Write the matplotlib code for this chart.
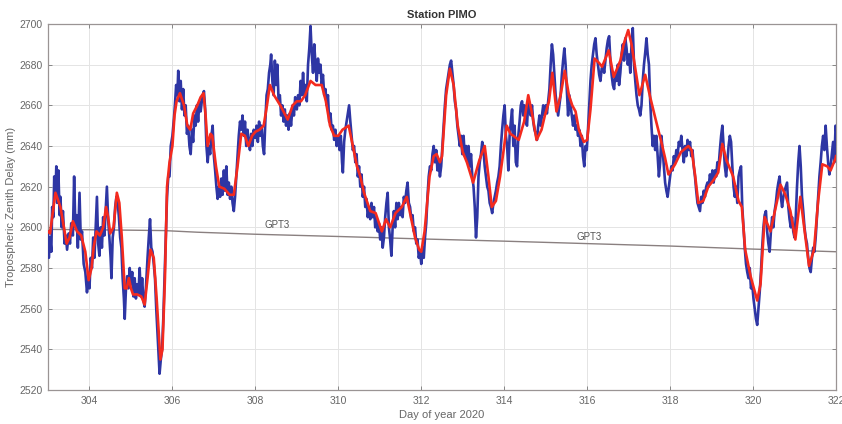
import matplotlib
matplotlib.use("Agg")
import matplotlib.pyplot as plt

plt.rcParams['font.family'] = ['Liberation Sans', 'DejaVu Sans']

# ---------------- data ----------------
blue_day = [
303.00,303.02,303.05,303.08,303.10,303.13,303.15,303.18,303.20,303.22,303.25,303.28,303.30,303.33,303.36,303.40,
303.43,303.46,303.50,303.53,303.56,303.60,303.63,303.66,303.69,303.72,303.76,303.79,303.82,303.86,303.90,303.94,
303.97,304.00,304.03,304.06,304.09,304.12,304.15,304.18,304.21,304.24,304.27,304.30,304.33,304.36,304.40,304.42,
304.45,304.48,304.51,304.53,304.56,304.59,304.62,304.65,304.68,304.71,304.74,304.77,304.80,304.83,304.85,304.88,
304.91,304.94,304.97,305.00,305.03,305.06,305.09,305.12,305.15,305.18,305.21,305.24,305.27,305.30,305.33,305.36,
305.40,305.43,305.46,305.49,305.52,305.55,305.58,305.61,305.64,305.67,305.69,305.72,305.75,305.78,305.81,305.84,
305.87,305.90,305.93,305.96,306.00,306.03,306.06,306.09,306.12,306.14,306.17,306.20,306.23,306.26,306.29,306.32,
306.35,306.38,306.41,306.44,306.47,306.50,306.53,306.56,306.59,306.62,306.65,306.68,306.72,306.76,306.79,306.82,
306.85,306.88,306.91,306.94,306.97,307.00,307.03,307.06,307.09,307.12,307.15,307.18,307.21,307.24,307.27,307.30,
307.33,307.36,307.39,307.42,307.45,307.48,307.51,307.54,307.57,307.60,307.63,307.66,307.69,307.72,307.75,307.78,
307.81,307.84,307.87,307.90,307.93,307.96,308.00,308.03,308.06,308.09,308.12,308.15,308.18,308.21,308.24,308.27,
308.30,308.33,308.36,308.38,308.41,308.44,308.47,308.50,308.53,308.56,308.59,308.62,308.65,308.68,308.71,308.74,
308.77,308.80,308.83,308.86,308.90,308.93,308.96,309.00,309.03,309.06,309.09,309.12,309.15,309.18,309.21,309.24,
309.27,309.30,309.33,309.36,309.39,309.42,309.45,309.48,309.51,309.54,309.57,309.60,309.63,309.66,309.69,309.72,
309.75,309.78,309.81,309.84,309.87,309.90,309.93,309.96,310.00,310.03,310.06,310.09,310.11,310.14,310.17,310.20,
310.23,310.26,310.29,310.32,310.35,310.38,310.41,310.44,310.47,310.50,310.53,310.56,310.59,310.62,310.65,310.68,
310.71,310.74,310.77,310.80,310.83,310.86,310.89,310.92,310.95,310.98,311.01,311.04,311.07,311.10,311.13,311.16,
311.19,311.22,311.25,311.28,311.31,311.34,311.37,311.40,311.43,311.46,311.49,311.52,311.55,311.58,311.61,311.64,
311.67,311.70,311.73,311.76,311.79,311.82,311.85,311.88,311.91,311.94,311.97,312.00,312.03,312.06,312.09,312.12,
312.15,312.18,312.21,312.24,312.27,312.30,312.33,312.36,312.39,312.42,312.45,312.48,312.51,312.54,312.57,312.60,
312.63,312.66,312.69,312.72,312.75,312.78,312.81,312.84,312.87,312.90,312.93,312.96,312.99,313.02,313.05,313.08,
313.11,313.14,313.17,313.20,313.23,313.26,313.29,313.32,313.35,313.38,313.41,313.44,313.47,313.50,313.53,313.56,
313.59,313.62,313.65,313.68,313.71,313.74,313.77,313.80,313.83,313.86,313.89,313.92,313.95,313.98,314.01,314.04,
314.07,314.10,314.13,314.16,314.19,314.22,314.25,314.28,314.31,314.34,314.37,314.40,314.43,314.46,314.49,314.52,
314.55,314.58,314.61,314.64,314.67,314.70,314.73,314.76,314.79,314.82,314.85,314.88,314.91,314.94,314.97,315.00,
315.03,315.06,315.09,315.12,315.15,315.18,315.21,315.24,315.27,315.30,315.33,315.36,315.39,315.42,315.45,315.48,
315.51,315.54,315.57,315.60,315.63,315.66,315.69,315.72,315.75,315.78,315.81,315.84,315.87,315.90,315.93,315.96,
315.99,316.02,316.05,316.08,316.11,316.14,316.17,316.20,316.23,316.26,316.29,316.32,316.35,316.38,316.41,316.44,
316.47,316.50,316.53,316.56,316.59,316.62,316.65,316.68,316.71,316.74,316.77,316.80,316.83,316.86,316.89,316.92,
316.95,316.98,317.01,317.04,317.07,317.10,317.13,317.16,317.19,317.22,317.25,317.28,317.31,317.34,317.37,317.40,
317.43,317.46,317.49,317.52,317.55,317.58,317.61,317.64,317.67,317.70,317.73,317.76,317.79,317.82,317.85,317.88,
317.91,317.94,317.97,318.00,318.03,318.06,318.09,318.12,318.15,318.18,318.21,318.24,318.27,318.30,318.33,318.36,
318.39,318.42,318.45,318.48,318.51,318.54,318.57,318.60,318.63,318.66,318.69,318.72,318.75,318.78,318.81,318.84,
318.87,318.90,318.93,318.96,318.99,319.02,319.05,319.08,319.11,319.14,319.17,319.20,319.23,319.26,319.29,319.32,
319.35,319.38,319.41,319.44,319.47,319.50,319.53,319.56,319.59,319.62,319.65,319.68,319.71,319.74,319.77,319.80,
319.83,319.86,319.89,319.92,319.95,319.98,320.01,320.04,320.07,320.10,320.13,320.16,320.19,320.22,320.25,320.28,
320.31,320.34,320.37,320.40,320.43,320.46,320.49,320.52,320.55,320.58,320.61,320.64,320.67,320.70,320.73,320.76,
320.79,320.82,320.85,320.88,320.91,320.94,320.97,321.00,321.03,321.06,321.09,321.12,321.15,321.18,321.21,321.24,
321.27,321.30,321.33,321.36,321.39,321.42,321.45,321.48,321.51,321.54,321.57,321.60,321.63,321.66,321.69,321.72,
321.75,321.78,321.81,321.84,321.87,321.90,321.93,321.96,321.99,322.00]

blue_ztd = [
2598,2585,2595,2588,2610,2605,2625,2615,2630,2612,2628,2606,2615,2600,2608,2592,
2596,2589,2597,2592,2602,2596,2625,2600,2606,2590,2617,2594,2598,2582,2578,2568,
2575,2570,2585,2580,2595,2585,2600,2615,2592,2586,2600,2590,2605,2596,2612,2620,
2604,2595,2585,2575,2595,2600,2610,2615,2612,2605,2595,2590,2575,2565,2555,2570,
2576,2570,2580,2572,2578,2566,2575,2565,2572,2567,2580,2566,2575,2564,2561,2570,
2585,2595,2604,2590,2588,2582,2575,2560,2548,2535,2528,2535,2540,2555,2575,2595,
2615,2625,2625,2640,2645,2652,2660,2670,2665,2677,2662,2672,2658,2668,2655,2660,
2646,2650,2640,2636,2648,2642,2655,2650,2660,2652,2662,2657,2664,2667,2658,2640,
2632,2640,2636,2645,2650,2635,2628,2620,2614,2620,2615,2624,2616,2628,2618,2630,
2616,2622,2614,2620,2612,2608,2615,2625,2635,2645,2652,2648,2655,2645,2652,2640,
2648,2642,2638,2646,2640,2648,2644,2650,2642,2652,2645,2650,2640,2636,2652,2665,
2668,2676,2680,2685,2672,2665,2682,2670,2680,2662,2665,2655,2660,2652,2658,2650,
2655,2648,2656,2650,2660,2655,2664,2658,2665,2660,2672,2665,2676,2665,2670,2662,
2680,2688,2699,2685,2676,2690,2680,2672,2683,2676,2680,2670,2675,2665,2668,2660,
2665,2652,2656,2648,2650,2643,2648,2640,2645,2638,2645,2632,2627,2642,2648,2652,
2656,2660,2652,2645,2638,2640,2632,2636,2625,2630,2620,2626,2615,2620,2610,2614,
2605,2610,2604,2612,2605,2610,2600,2605,2598,2602,2594,2600,2590,2595,2605,2612,
2617,2600,2594,2586,2600,2608,2600,2612,2604,2612,2606,2610,2605,2615,2612,2618,
2622,2612,2610,2604,2606,2598,2600,2592,2594,2585,2588,2582,2590,2585,2595,2602,
2615,2625,2630,2628,2636,2640,2632,2638,2628,2632,2625,2630,2640,2650,2660,2668,
2672,2676,2680,2682,2676,2670,2662,2658,2650,2645,2640,2645,2636,2645,2635,2640,
2632,2640,2630,2636,2625,2620,2610,2595,2605,2625,2632,2636,2642,2638,2630,2625,
2620,2618,2612,2610,2607,2612,2615,2618,2622,2625,2630,2640,2648,2655,2660,2645,
2640,2628,2645,2652,2658,2640,2650,2632,2630,2645,2652,2660,2662,2655,2660,2652,
2650,2662,2658,2655,2660,2652,2648,2646,2643,2650,2655,2650,2655,2660,2655,2660,
2656,2662,2668,2680,2690,2685,2675,2665,2660,2655,2660,2665,2675,2682,2688,2680,
2668,2655,2665,2660,2655,2650,2655,2648,2650,2645,2648,2640,2645,2635,2630,2640,
2638,2648,2660,2672,2680,2685,2690,2693,2685,2680,2675,2672,2678,2680,2676,2682,
2688,2692,2694,2682,2675,2670,2668,2676,2672,2680,2670,2676,2685,2690,2682,2693,
2688,2680,2685,2676,2690,2698,2680,2672,2665,2660,2658,2655,2660,2672,2680,2686,
2693,2685,2680,2662,2650,2640,2645,2638,2645,2635,2625,2632,2645,2638,2630,2622,
2618,2615,2620,2625,2630,2628,2635,2632,2638,2635,2642,2640,2645,2638,2632,2640,
2635,2643,2638,2642,2635,2638,2630,2625,2618,2612,2610,2608,2615,2612,2618,2615,
2620,2622,2620,2626,2622,2628,2622,2628,2625,2632,2630,2638,2645,2650,2640,2630,
2625,2632,2640,2645,2642,2630,2620,2615,2620,2612,2625,2628,2630,2610,2600,2590,
2582,2578,2575,2580,2570,2572,2565,2560,2555,2552,2560,2568,2578,2590,2600,2606,
2608,2598,2592,2588,2598,2605,2600,2608,2612,2618,2622,2625,2615,2610,2615,2618,
2620,2622,2610,2604,2600,2605,2598,2595,2605,2620,2632,2640,2630,2615,2608,2600,
2595,2592,2585,2580,2578,2585,2590,2588,2595,2605,2615,2625,2632,2640,2645,2638,
2650,2640,2632,2626,2630,2636,2642,2632,2650,2648]

red_day = [
303.00,303.05,303.10,303.18,303.30,303.40,303.45,303.52,303.60,303.70,303.80,303.90,303.98,304.05,304.10,304.17,
304.25,304.33,304.40,304.45,304.50,304.58,304.66,304.72,304.78,304.85,304.90,304.95,305.00,305.05,305.15,305.25,
305.33,305.40,305.47,305.55,305.62,305.71,305.76,305.82,305.87,305.93,306.00,306.05,306.10,306.18,306.28,306.36,
306.43,306.50,306.60,306.68,306.75,306.80,306.85,306.92,306.96,307.05,307.13,307.25,307.38,307.48,307.57,307.66,
307.75,307.83,307.92,308.00,308.10,308.20,308.28,308.35,308.45,308.60,308.78,308.90,309.00,309.10,309.20,309.33,
309.45,309.60,309.70,309.80,309.90,310.00,310.10,310.25,310.35,310.45,310.53,310.62,310.77,310.90,311.05,311.15,
311.25,311.38,311.53,311.65,311.75,311.85,311.95,312.00,312.08,312.20,312.30,312.37,312.45,312.50,312.60,312.69,
312.78,312.88,313.00,313.10,313.25,313.40,313.53,313.62,313.70,313.80,313.90,314.00,314.06,314.15,314.22,314.35,
314.48,314.58,314.68,314.78,314.90,314.98,315.08,315.16,315.26,315.36,315.46,315.56,315.64,315.72,315.80,315.92,
316.00,316.08,316.18,316.28,316.36,316.52,316.64,316.80,316.88,316.99,317.07,317.26,317.40,317.52,317.64,317.80,
317.88,317.96,318.12,318.26,318.44,318.52,318.60,318.68,318.80,318.92,319.04,319.16,319.26,319.36,319.52,319.65,
319.73,319.81,319.94,320.10,320.18,320.28,320.42,320.58,320.66,320.78,320.90,321.02,321.14,321.25,321.35,321.47,
321.57,321.67,321.79,321.87,321.99,322.00]

red_ztd = [
2598,2597,2605,2617,2610,2598,2592,2595,2603,2598,2596,2588,2574,2580,2590,2598,
2596,2600,2610,2605,2597,2600,2617,2612,2595,2570,2570,2575,2570,2567,2567,2566,
2562,2575,2589,2585,2565,2535,2540,2575,2620,2632,2640,2655,2662,2666,2660,2650,
2648,2656,2660,2664,2666,2655,2640,2646,2645,2630,2620,2619,2616,2616,2630,2646,
2645,2640,2645,2647,2648,2650,2660,2670,2665,2660,2653,2660,2662,2662,2665,2672,
2670,2670,2662,2650,2645,2645,2648,2650,2640,2630,2625,2617,2608,2607,2598,2604,
2600,2607,2610,2615,2605,2595,2589,2588,2598,2625,2635,2636,2632,2635,2665,2678,
2670,2650,2637,2632,2622,2633,2640,2625,2610,2613,2625,2640,2650,2646,2645,2643,
2652,2665,2655,2643,2648,2655,2662,2676,2657,2665,2677,2665,2660,2657,2648,2642,
2643,2658,2683,2681,2679,2687,2674,2682,2690,2697,2690,2665,2675,2664,2654,2641,
2634,2626,2631,2637,2640,2638,2626,2612,2613,2620,2623,2627,2641,2633,2625,2613,
2610,2589,2576,2564,2572,2605,2598,2613,2621,2616,2608,2594,2615,2597,2581,2589,
2613,2631,2630,2628,2634,2635]

gpt3_day = [303.0, 304.0, 305.0, 305.8, 306.2, 306.6, 308.0, 310.0, 312.0, 314.0, 316.0, 318.0, 320.0, 322.0]
gpt3_ztd = [2599.0, 2598.8, 2598.6, 2598.4, 2598.0, 2597.6, 2596.6, 2595.5, 2594.3, 2593.2, 2592.0, 2590.8, 2589.3, 2588.0]

gpt3_label_day = [308.53, 316.05]
gpt3_label_ztd = [2601.1, 2595.1]

x_ticks = [304, 306, 308, 310, 312, 314, 316, 318, 320, 322]
y_ticks = [2520, 2540, 2560, 2580, 2600, 2620, 2640, 2660, 2680, 2700]

# ---------------- plot ----------------
fig = plt.figure(figsize=(8.42, 4.24), dpi=100)
ax = fig.add_axes([48/842, 1-390/424, 788/842, 366/424])

ax.plot(gpt3_day, gpt3_ztd, color='#8a8080', lw=1.0, zorder=2)
ax.plot(blue_day, blue_ztd, color='#2e36a4', lw=1.9, zorder=3)
ax.plot(red_day, red_ztd, color='#f42a1e', lw=1.9, zorder=4)

for d, v in zip(gpt3_label_day, gpt3_label_ztd):
    ax.text(d, v, 'GPT3', fontsize=7, color='#555555', ha='center', va='center', zorder=5)

ax.set_xlim(303, 322)
ax.set_ylim(2520, 2700)
ax.set_xticks(x_ticks)
ax.set_yticks(y_ticks)
ax.grid(True, color='#e4e4e4', lw=0.7)
ax.set_axisbelow(True)
ax.tick_params(direction='in', length=3, width=0.6, colors='#777777', labelcolor='#666666',
               labelsize=7.5, top=True, right=True, pad=4)
for s in ax.spines.values():
    s.set_color('#9a9494')
    s.set_linewidth(0.9)

ax.set_title('Station PIMO', fontsize=8, fontweight='bold', color='#333333', pad=4)
ax.set_xlabel('Day of year 2020', fontsize=8, color='#666666', labelpad=3)
ax.set_ylabel('Tropospheric Zenith Delay (mm)', fontsize=8, color='#666666', labelpad=2)

fig.savefig('out.png', dpi=100, facecolor='white')
